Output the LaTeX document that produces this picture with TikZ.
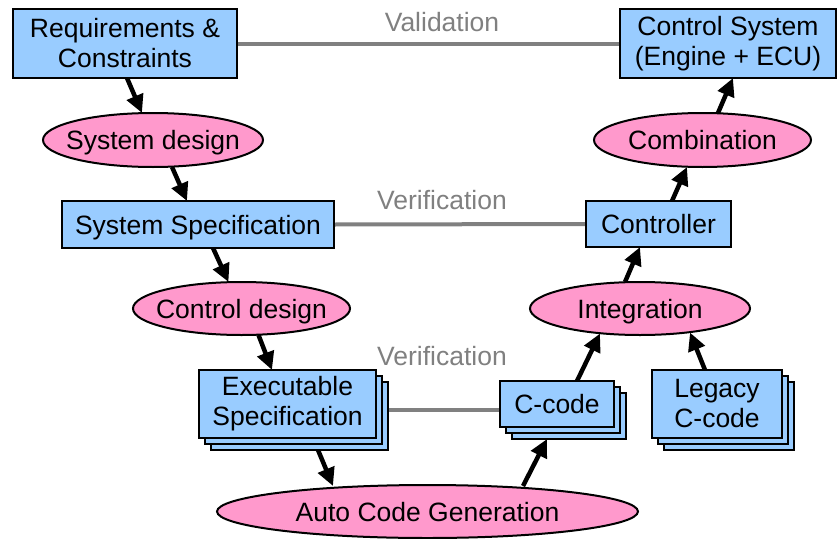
\documentclass[tikz,border=0pt]{standalone}
\usepackage{fontspec}
\setmainfont{Liberation Sans}
\usetikzlibrary{arrows.meta,shapes.geometric,shadows,backgrounds}
\definecolor{boxblue}{HTML}{99CCFF}
\definecolor{ovalpink}{HTML}{FF99CC}
\definecolor{linkgray}{HTML}{808080}
\begin{document}
\begin{tikzpicture}[x=1pt,y=-1pt,
  font=\fontsize{26.5}{30}\selectfont,
  box/.style={draw=black, line width=2pt, fill=boxblue, rectangle, inner sep=0pt, outer sep=0pt, align=center},
  oneline/.style={text height=19pt, text depth=0pt},
  stack/.style={box,
    copy shadow={shadow xshift=12pt, shadow yshift=-12pt},
    copy shadow={shadow xshift=6pt, shadow yshift=-6pt}},
  oval/.style={draw=black, line width=2pt, fill=ovalpink, ellipse, inner sep=0pt, outer sep=0pt, oneline},
  flow/.style={line width=4.5pt, -{Triangle[length=18pt,width=17pt]}},
  link/.style={linkgray, line width=4pt},
  linklabel/.style={text=linkgray, inner sep=0pt, oneline}]
\useasboundingbox (0,0) rectangle (837,538);

% process boxes
\node[box, minimum width=224pt, minimum height=69pt] (req) at (125,43.5) {Requirements \&\\Constraints};
\node[box, minimum width=216pt, minimum height=69pt] (ctrlsys) at (728,43.5) {Control System\\(Engine + ECU)};
\node[box, oneline, minimum width=272pt, minimum height=47pt] (sysspec) at (198,224.5) {System Specification};
\node[box, oneline, minimum width=145pt, minimum height=46pt] (controller) at (658.5,224) {Controller};
\node[stack, minimum width=177pt, minimum height=68pt] (exec) at (287.5,404) {Executable\\Specification};
\node[stack, oneline, minimum width=114pt, minimum height=46pt] (ccode) at (557,404) {C-code};
\node[stack, minimum width=130pt, minimum height=68pt] (legacy) at (717,404) {Legacy\\C-code};

% activities
\node[oval, minimum width=220pt, minimum height=54pt] (sysdesign) at (153,140) {\makebox[0pt]{System design}};
\node[oval, minimum width=217pt, minimum height=54pt] (combination) at (702.5,140) {\makebox[0pt]{Combination}};
\node[oval, minimum width=217pt, minimum height=53pt] (ctrldesign) at (241.5,308.5) {\makebox[0pt]{Control design}};
\node[oval, minimum width=220pt, minimum height=53pt] (integration) at (640,308.5) {\makebox[0pt]{Integration}};
\node[oval, minimum width=421pt, minimum height=53pt] (autocode) at (427.5,511.5) {\makebox[0pt]{Auto Code Generation}};

% check labels
\node[linklabel] (validation) at (442,22) {Validation};
\node[linklabel] (verif1) at (442,200) {Verification};
\node[linklabel] (verif2) at (442,356) {Verification};

% check links
\begin{scope}[on background layer]
  \draw[link] (req.east) -- (ctrlsys.west);
  \draw[link] (sysspec.east) -- (controller.west);
  \draw[link] ([yshift=-6pt]exec.east) -- ([yshift=-6pt]ccode.west);
\end{scope}

% left branch of the V
\draw[flow] ([xshift=2pt]req.south) -- ([xshift=-11pt]sysdesign.north);
\draw[flow] ([xshift=19pt]sysdesign.south) -- ([xshift=-11pt]sysspec.north);
\draw[flow] ([xshift=15pt]sysspec.south) -- ([xshift=-13pt]ctrldesign.north);
\draw[flow] ([xshift=17pt]ctrldesign.south) -- ([xshift=-15.5pt]exec.north);
\draw[flow] ([xshift=30.5pt,yshift=-12pt]exec.south) -- ([xshift=-94.5pt,yshift=-1pt]autocode.north);

% right branch of the V
\draw[flow] ([xshift=95.5pt,yshift=-1pt]autocode.north) -- ([xshift=-10pt,yshift=-12pt]ccode.south);
\draw[flow] ([xshift=20pt]ccode.north) -- ([xshift=-40pt,yshift=1.5pt]integration.south);
\draw[flow] ([xshift=-12pt]legacy.north) -- ([xshift=50pt,yshift=2.5pt]integration.south);
\draw[flow] ([xshift=-15pt]integration.north) -- ([xshift=-18.5pt]controller.south);
\draw[flow] ([xshift=13.5pt]controller.north) -- ([xshift=-15.5pt]combination.south);
\draw[flow] ([xshift=15.5pt]combination.north) -- ([xshift=5pt]ctrlsys.south);
\end{tikzpicture}
\end{document}
